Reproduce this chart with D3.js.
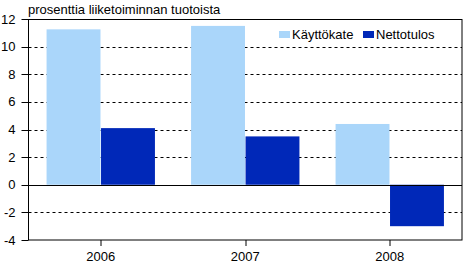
<!DOCTYPE html>
<html>
<head>
<meta charset="utf-8">
<script src="https://cdn.jsdelivr.net/npm/d3@7"></script>
<style>
  body { margin: 0; background: white; }
  text { font-family: "Liberation Sans", Arial, sans-serif; font-size: 13px; fill: black; }
</style>
</head>
<body>
<svg id="chart" width="463" height="265"></svg>
<script>
let vuodet = ["2006", "2007", "2008"];
let sarjat = ["Käyttökate", "Nettotulos"];
let kayttokate = [11.25, 11.5, 4.4];
let nettotulos = [4.1, 3.5, -3.0];
let yticks = [-4, -2, 0, 2, 4, 6, 8, 10, 12];
let varit = ["#aad6fa", "#0028b8"];
let otsikko = "prosenttia liiketoiminnan tuotoista";

let margin = {top: 19, right: 1, bottom: 25, left: 28.5};
let svg = d3.select("#chart");
let w = 463 - margin.left - margin.right;
let h = 265 - margin.top - margin.bottom;
let g = svg.append("g").attr("transform", "translate(" + margin.left + "," + margin.top + ")");

let xscale = d3.scaleBand().domain(vuodet).range([0, w]);
let xsub = d3.scaleBand().domain(sarjat).range([xscale.bandwidth() * 0.125, xscale.bandwidth() * 0.875]).paddingInner(0.01);
let yscale = d3.scaleLinear().domain([-4, 12]).range([h, 0]);

// gridlines
g.selectAll(".grid")
    .data(yticks.filter(d => d != 0 && d != 12 && d != -4))
    .enter()
    .append("line")
    .attr("x1", 0).attr("x2", w)
    .attr("y1", d => Math.round(yscale(d)) + 0.5)
    .attr("y2", d => Math.round(yscale(d)) + 0.5)
    .style("stroke", "black")
    .style("stroke-dasharray", "3 3");

let datos = vuodet.map((v, i) => [
    {vuosi: v, sarja: sarjat[0], arvo: kayttokate[i]},
    {vuosi: v, sarja: sarjat[1], arvo: nettotulos[i]}
]).flat();

g.selectAll(".bar")
    .data(datos)
    .enter()
    .append("rect")
    .attr("x", d => xscale(d.vuosi) + xsub(d.sarja))
    .attr("width", xsub.bandwidth())
    .attr("y", d => yscale(Math.max(0, d.arvo)))
    .attr("height", d => Math.abs(yscale(d.arvo) - yscale(0)))
    .style("fill", (d, i) => varit[sarjat.indexOf(d.sarja)]);

// zero line
g.append("line")
    .attr("x1", 0).attr("x2", w)
    .attr("y1", Math.round(yscale(0)) + 0.5).attr("y2", Math.round(yscale(0)) + 0.5)
    .style("stroke", "black");

// frame
g.append("rect")
    .attr("x", 0).attr("y", 0.5)
    .attr("width", w).attr("height", h - 0.5)
    .style("fill", "none")
    .style("stroke", "black");

// y axis
g.selectAll(".ytick")
    .data(yticks)
    .enter()
    .append("line")
    .attr("x1", -7).attr("x2", 0)
    .attr("y1", d => Math.round(yscale(d)) + 0.5)
    .attr("y2", d => Math.round(yscale(d)) + 0.5)
    .style("stroke", "black");

g.selectAll(".ylab")
    .data(yticks)
    .enter()
    .append("text")
    .attr("x", -13)
    .attr("y", d => yscale(d))
    .attr("dy", "0.35em")
    .style("text-anchor", "end")
    .text(d => d);

// x axis
g.selectAll(".xtick")
    .data(vuodet)
    .enter()
    .append("line")
    .attr("x1", d => Math.round(xscale(d) + xscale.bandwidth() / 2) + 0.5)
    .attr("x2", d => Math.round(xscale(d) + xscale.bandwidth() / 2) + 0.5)
    .attr("y1", h).attr("y2", h + 6)
    .style("stroke", "black");

g.selectAll(".xlab")
    .data(vuodet)
    .enter()
    .append("text")
    .attr("x", d => xscale(d) + xscale.bandwidth() / 2)
    .attr("y", h + 21)
    .style("text-anchor", "middle")
    .text(d => d);

// title
svg.append("text")
    .attr("x", 28)
    .attr("y", 14)
    .text(otsikko);

// legend
let legend = svg.append("g").attr("transform", "translate(279,28)");
let lx = [0, 84];
sarjat.forEach((s, i) => {
    legend.append("rect")
        .attr("x", lx[i]).attr("y", 3)
        .attr("width", 11).attr("height", 7)
        .style("fill", varit[i]);
    legend.append("text")
        .attr("x", lx[i] + 13)
        .attr("y", 11)
        .text(s);
});
</script>
</body>
</html>
